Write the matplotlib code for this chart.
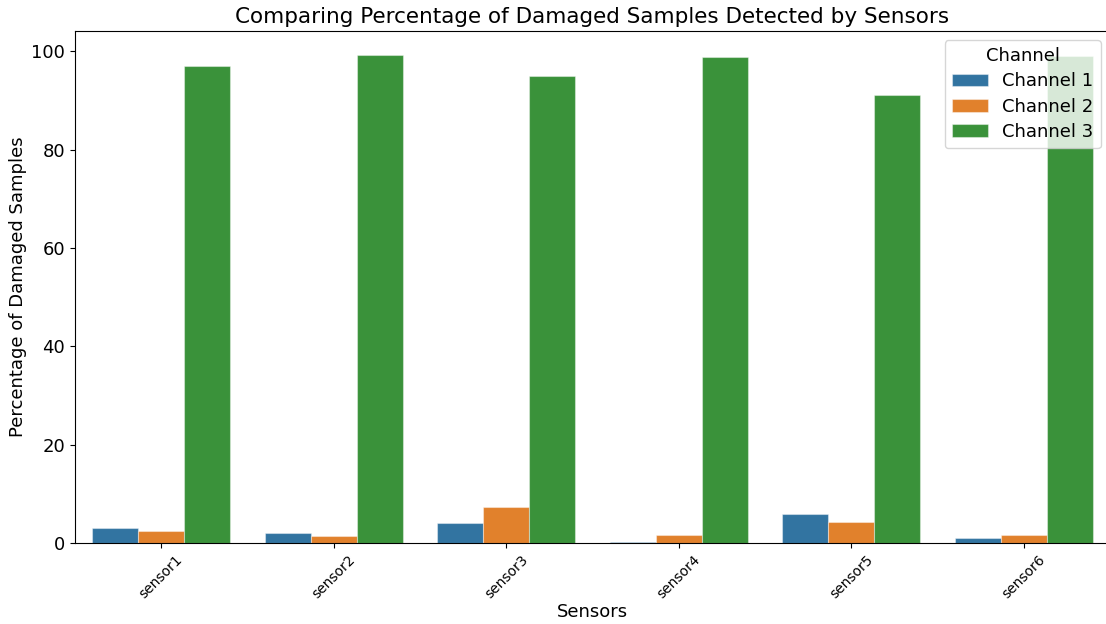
import matplotlib
matplotlib.use("Agg")
import matplotlib.pyplot as plt
import numpy as np

sensors = ["sensor1", "sensor2", "sensor3", "sensor4", "sensor5", "sensor6"]
channels = ["Channel 1", "Channel 2", "Channel 3"]
channel1 = [3.0, 2.0, 4.0, 0.25, 6.0, 1.05]
channel2 = [2.5, 1.35, 7.3, 1.55, 4.35, 1.55]
channel3 = [97.0, 99.2, 95.0, 98.95, 91.2, 99.05]
colors = ["#3274a1", "#e1812c", "#3a923a"]

fig = plt.figure(figsize=(11.06, 6.24), dpi=100)
ax = fig.add_axes([75/1106, 81/624, 1035/1106, 512/624])

x = np.arange(len(sensors))
w = 0.8 / 3
for i, (vals, lab) in enumerate(zip([channel1, channel2, channel3], channels)):
    ax.bar(x + (i - 1) * w, vals, width=w, color=colors[i], label=lab,
           edgecolor=(1, 1, 1, 0.4), linewidth=0.8)

ax.set_xlim(-0.5, len(sensors) - 0.5)
ax.set_ylim(0, max(channel3) * 1.05)
ax.set_xticks(x)
ax.set_xticklabels(sensors, rotation=45, fontsize=10)
ax.tick_params(axis="y", labelsize=13)
ax.set_yticks([0, 20, 40, 60, 80, 100])
ax.set_xlabel("Sensors", fontsize=13, labelpad=1)
ax.set_ylabel("Percentage of Damaged Samples", fontsize=13, labelpad=3)
ax.set_title("Comparing Percentage of Damaged Samples Detected by Sensors", fontsize=15.5)
ax.spines["right"].set_visible(False)
ax.legend(title="Channel", fontsize=13, title_fontsize=13, loc="upper right",
          labelspacing=0.4)

fig.savefig("out.png", dpi=100)
